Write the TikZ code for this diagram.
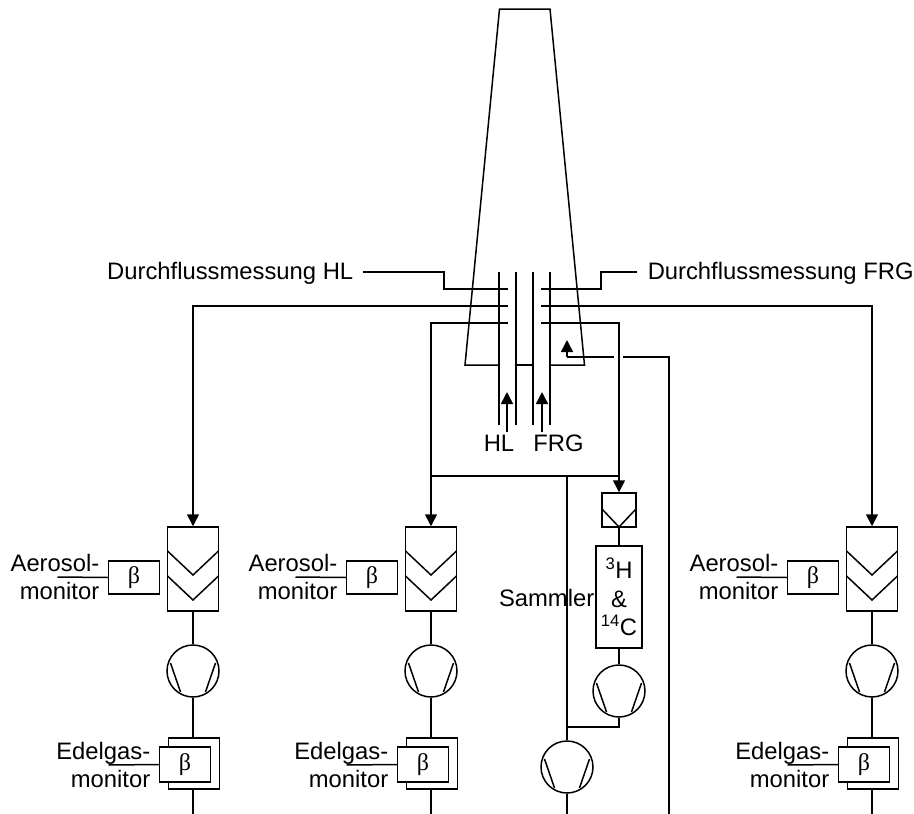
\documentclass[tikz,border=0pt]{standalone}
\usepackage{fontspec}
\setmainfont{Liberation Sans}
\newfontfamily\betafont{Liberation Serif}
\usetikzlibrary{arrows.meta, positioning, calc}

\tikzset{
	flow/.style={-{Triangle[width=12pt,length=12pt]}},
	unitbox/.style={draw, inner sep=0pt, fill=white},
	pumpnode/.style={draw, circle, inner sep=0pt, minimum size=52pt},
	label/.style={inner sep=0pt, font=\fontsize{23.8}{28.5}\selectfont},
}
\newcommand{\betatext}{{\betafont\fontsize{24}{28}\selectfont β}}
% pump symbol: the two slanted strokes inside the circle
\newcommand{\pumpstrokes}[1]{
	\draw ($(#1.center)+(-22.5,-8)$) -- ($(#1.center)+(-12.5,21)$);
	\draw ($(#1.center)+(22.5,-8)$) -- ($(#1.center)+(12.5,21)$);
}

\begin{document}
\begin{tikzpicture}[x=1pt, y=-1pt, line width=1.5pt]
	\useasboundingbox (0,0) rectangle (914,814);

	% stack
	\draw (499,365) -- (465,365) -- (499.5,9) -- (550,9) -- (584.5,365) -- (550,365);
	\draw (516,365) -- (533,365);

	% ducts
	\foreach \x in {499,516,533,550}
		\draw (\x,272) -- (\x,425);
	\coordinate (hlin) at (507,432);
	\coordinate (hltop) at (507,392);
	\coordinate (frgin) at (542,432);
	\coordinate (frgtop) at (542,392);
	\draw[flow] (hlin) -- (hltop);
	\draw[flow] (frgin) -- (frgtop);
	\node[label, anchor=base] (hl) at (499,451) {HL};
	\node[label, anchor=base] (frg) at (558.5,451) {FRG};

	% flow measurement
	\node[label, anchor=base east] (flowhl) at (354,279) {Durchflussmessung HL};
	\node[label, anchor=base west] (flowfrg) at (647,279) {Durchflussmessung FRG};
	\draw (363,272) -- (444,272) -- (444,289) -- (508,289);
	\draw (637,272) -- (601,272) -- (601,289) -- (541,289);

	% aerosol and noble gas lines
	\foreach \x/\n in {193/A,431/B,872/C} {
		\node[unitbox, minimum width=51pt, minimum height=84pt] (filter\n) at (\x,569) {};
		\draw (\x-25.5,551) -- (\x,575) -- (\x+25.5,551);
		\draw (\x-25.5,576) -- (\x,600) -- (\x+25.5,576);
		\node[unitbox, minimum width=51pt, minimum height=33pt] (beta\n) at (\x-59,577.5) {\betatext};
		\node[pumpnode] (pump\n) at (\x,671) {};
		\pumpstrokes{pump\n}
		\node[unitbox, minimum width=51pt, minimum height=51pt] (gasouter\n) at (\x+1,763.5) {};
		\node[unitbox, minimum width=51pt, minimum height=35pt] (gasinner\n) at (\x-8,764.5) {\betatext};
		\coordinate (end\n) at (\x,814);
		\coordinate (betaend\n) at (\x-135.5,577);
		\coordinate (gasend\n) at (\x-84.5,765);
		\draw (betaend\n) -- (beta\n.west);
		\draw (gasend\n) -- (gasinner\n.west);
		\draw (filter\n) -- (pump\n);
		\draw (pump\n) -- (gasouter\n.north -| pump\n);
		\draw (gasouter\n.south -| pump\n) -- (end\n);
		\node[label, align=right, anchor=east] (aerosol\n) at (\x-93,577) {Aerosol-\\monitor};
		\node[label, align=right, anchor=east] (edelgas\n) at (\x-42,765) {Edelgas-\\monitor};
	}

	% sampling lines
	\draw[flow] (508,306) -- (193,306) -- (filterA.north);
	\draw[flow] (541,306) -- (872,306) -- (filterC.north);
	\draw[flow] (508,323) -- (431,323) -- (filterB.north);
	\draw (431,476) -- (619,476);

	% sampler
	\node[unitbox, minimum width=34pt, minimum height=34pt] (trap) at (619,510) {};
	\draw (602,509) -- (619,527) -- (636,509);
	\node[unitbox, minimum width=46pt, minimum height=102pt, align=center, font=\fontsize{23.8}{28.5}\selectfont] (sampler) at (619,597) {\textsuperscript{3}H\\\&\\\textsuperscript{14}C};
	\node[label, anchor=base east] (sammler) at (595,606) {Sammler};
	\node[pumpnode] (pumpD) at (619,691) {};
	\pumpstrokes{pumpD}
	\node[pumpnode] (pumpE) at (567,767) {};
	\pumpstrokes{pumpE}
	\coordinate (join) at (567,727);
	\coordinate (endE) at (567,814);
	\draw[flow] (541,323) -- (619,323) -- (trap.north);
	\draw (trap) -- (sampler);
	\draw (sampler) -- (pumpD);
	\draw (pumpD.south) -- (619,727) -- (join);
	\draw (567,476) -- (pumpE);
	\draw (pumpE) -- (endE);

	% return line
	\coordinate (back) at (567,357);
	\coordinate (backtop) at (567,340);
	\draw[flow] (back) -- (backtop);
	\draw (back) -- (614,357);
	\draw (623,357) -- (669,357) -- (669,814);
\end{tikzpicture}
\end{document}
